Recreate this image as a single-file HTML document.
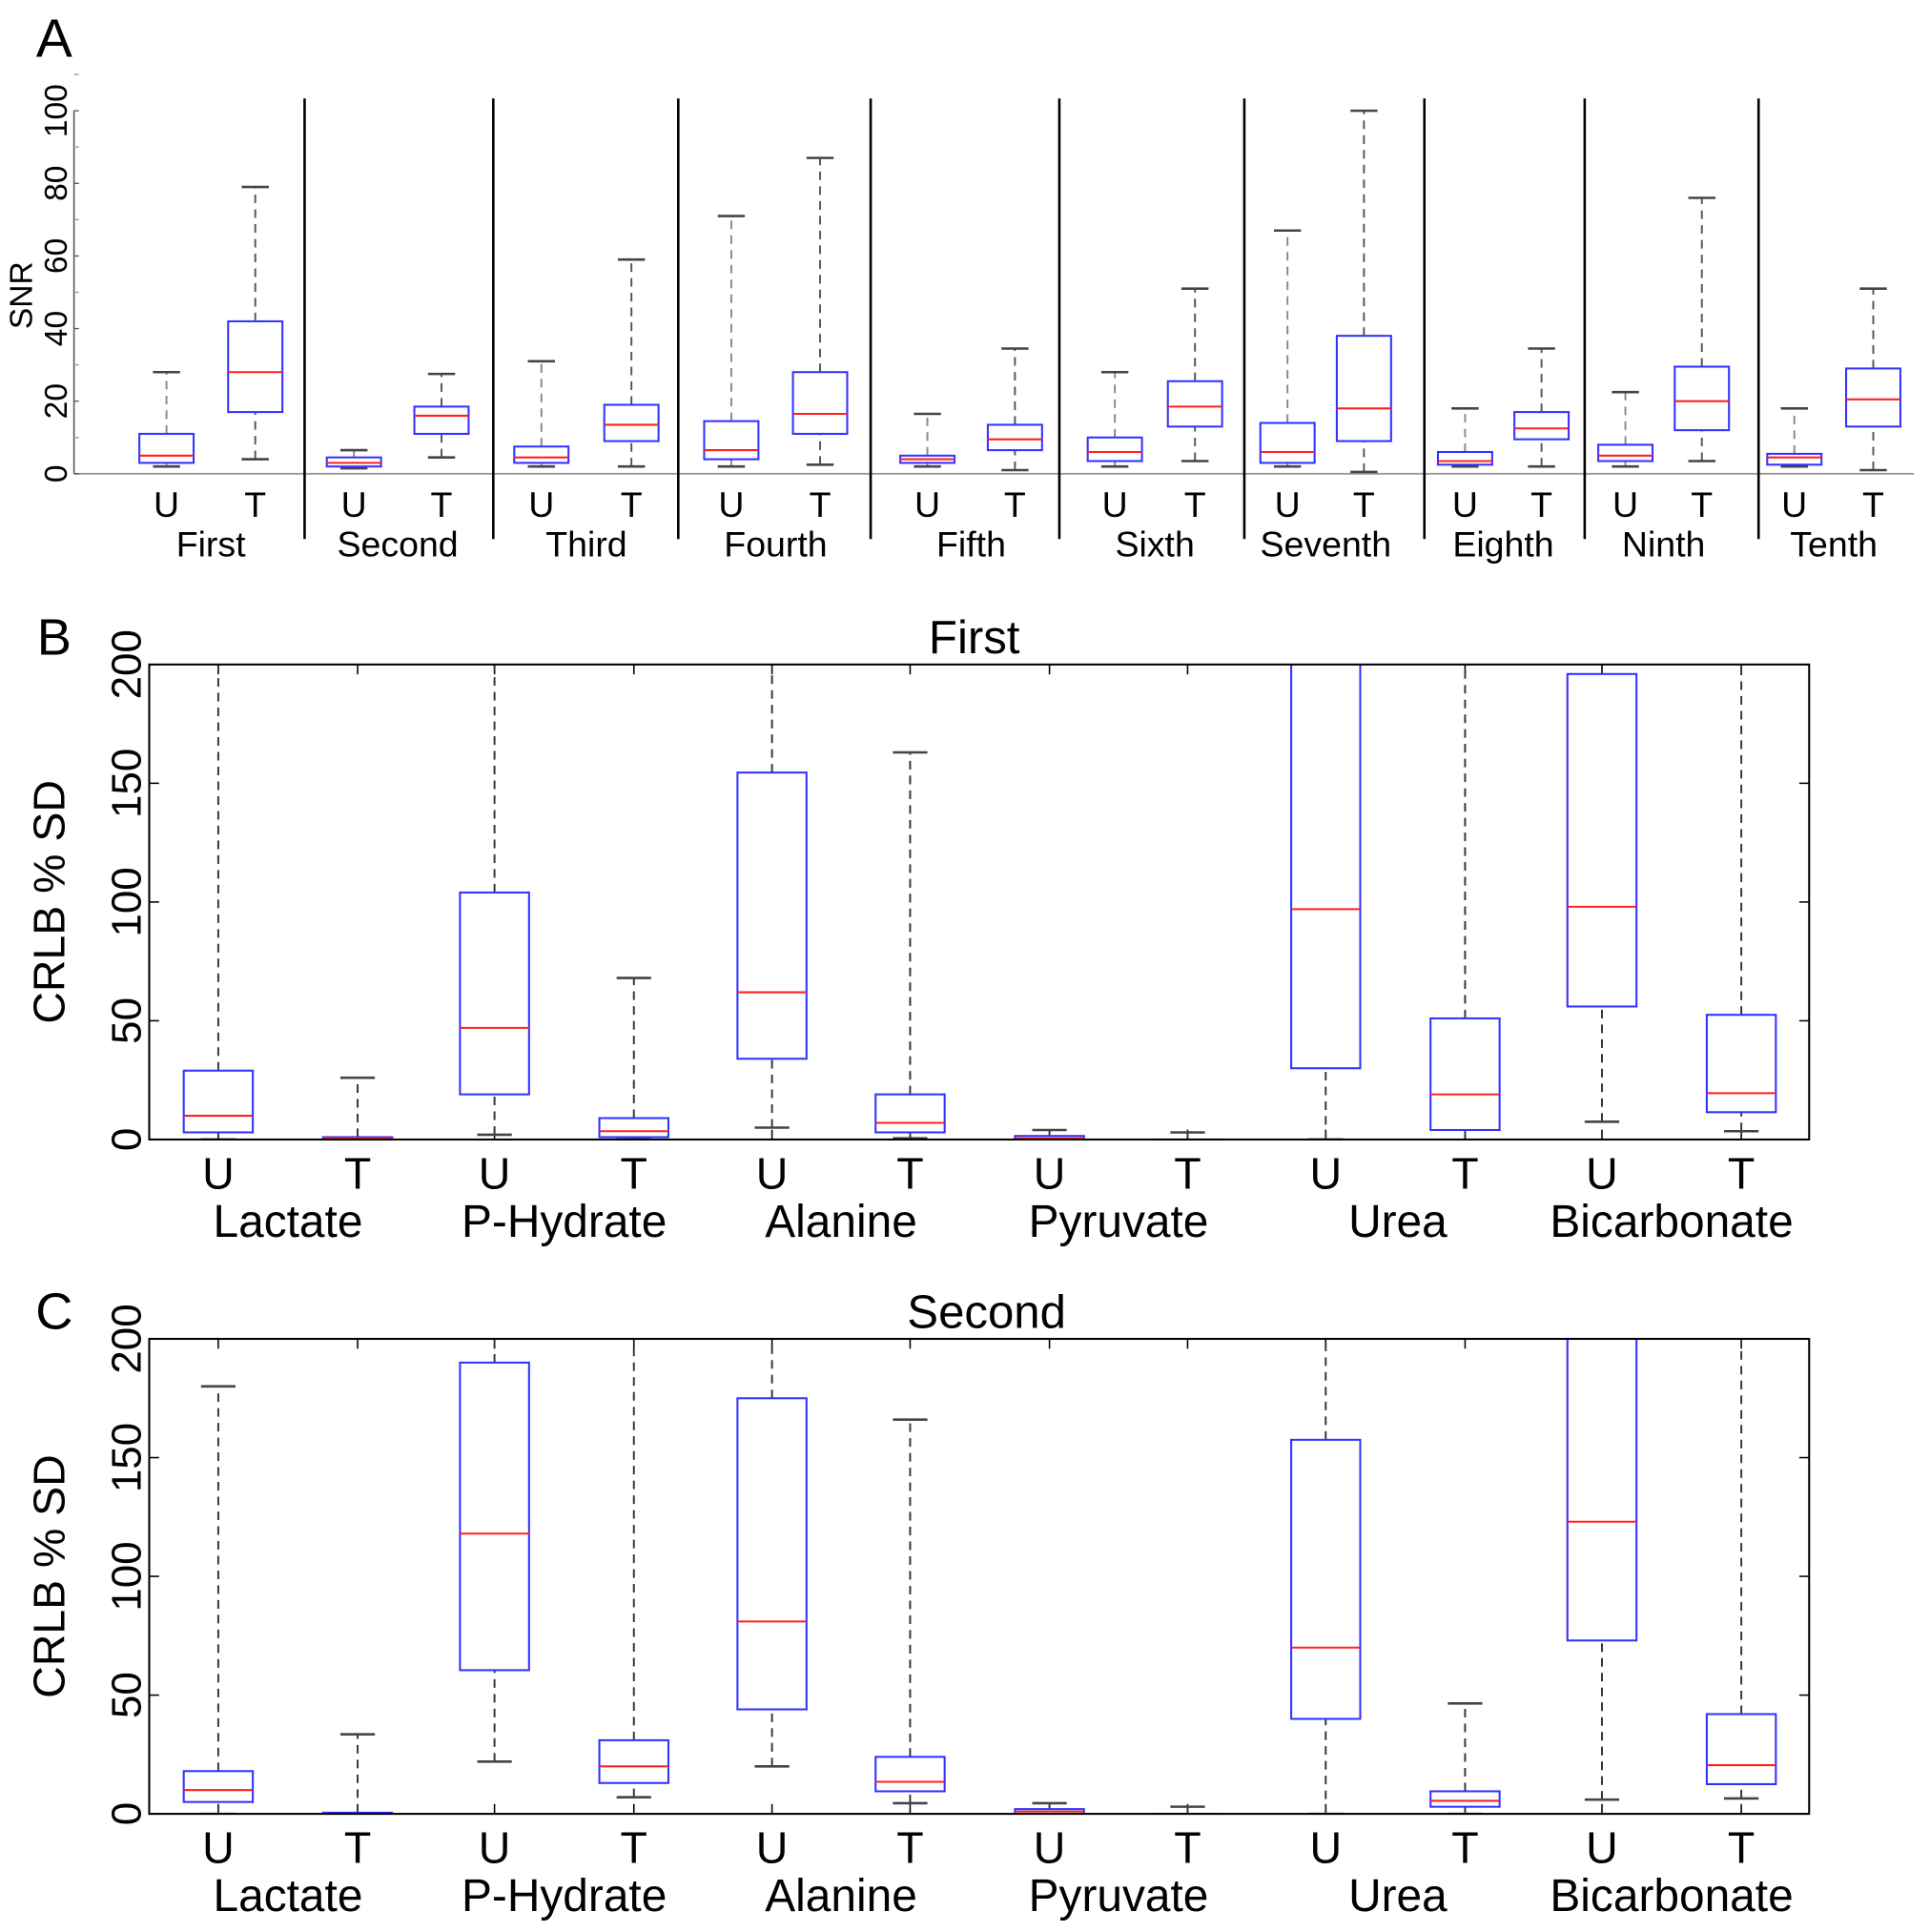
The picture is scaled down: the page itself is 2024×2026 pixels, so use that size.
<!DOCTYPE html>
<html><head><meta charset="utf-8"><style>
html,body{margin:0;padding:0;background:#fff;}
svg{display:block;}
text{font-family:"Liberation Sans",sans-serif;fill:#000;}
</style></head><body>
<svg id="fig" xmlns="http://www.w3.org/2000/svg" width="2024" height="2026" viewBox="0 0 1565 1570" preserveAspectRatio="none"></svg>
<script>
// Panel A data: [whiskerLow, q1, median, q3, whiskerHigh]
const aGroups = ["First","Second","Third","Fourth","Fifth","Sixth","Seventh","Eighth","Ninth","Tenth"];
const aU = [[2,3,5,11,28],[1.5,2,3,4.5,6.5],[2,3,4.5,7.5,31],[2,4,6.5,14.5,71],[2,3,4,5,16.5],[2,3.5,6,10,28],[2,3,6,14,67],[2,2.5,3.5,6,18],[2,3.5,5,8,22.5],[2,2.5,4.5,5.5,18]];
const aT = [[4,17,28,42,79],[4.5,11,16,18.5,27.5],[2,9,13.5,19,59],[2.5,11,16.5,28,87],[1,6.5,9.5,13.5,34.5],[3.5,13,18.5,25.5,51],[0.5,9,18,38,100],[2,9.5,12.5,17,34.5],[3.5,12,20,29.5,76],[1,13,20.5,29,51]];
const aTicks = [0,20,40,60,80,100];
// Panel B/C
const metabolites = ["Lactate","P-Hydrate","Alanine","Pyruvate","Urea","Bicarbonate"];
const bU = [[0,3,10,29,250],[2,19,47,104,250],[5,34,62,154.5,250],[0,0,0.5,1.5,4],[0,30,97,250,250],[7.5,56,98,196,250]];
const bT = [[0,0,0.5,1,26],[0,1,3.5,9,68],[0.5,3,7,19,163],[-0.5,-0.5,-0.5,0,3],[-0.5,4,19,51,250],[3.5,11.5,19.5,52.5,250]];
const cU = [[0,5,10,18,180],[22,60.5,118,190,250],[20,44,81,175,250],[0,0,1,2,4.5],[0,40,70,157.5,250],[6,73,123,250,250]];
const cT = [[0,0,0,0.5,33.5],[7,13,20,31,250],[4.5,9.5,13.5,24,166],[-0.5,-0.5,-0.5,0,3],[0,3,5.5,9.5,46.5],[6.5,12.5,20.5,42,250]];
const crlbTicks = [0,50,100,150,200];

const NS="http://www.w3.org/2000/svg";
const svg=document.getElementById('fig');
function mk(tag,attrs,parent){const e=document.createElementNS(NS,tag);for(const k in attrs)e.setAttribute(k,attrs[k]);(parent||svg).appendChild(e);return e;}
function txt(s,x,y,size,parent,extra){const t=mk('text',Object.assign({x:x,y:y,'font-size':size,'text-anchor':'middle'},extra||{}),parent);t.textContent=s;return t;}

function drawBox(g,cx,hw,v,yf,wcol,clipId){
  const bx=mk('g',{'clip-path':clipId?`url(#${clipId})`:''},g);
  
  
  mk('line',{x1:cx,x2:cx,y1:yf(v[0]),y2:yf(v[1]),stroke:wcol,'stroke-width':1.5,'stroke-dasharray':'7,5'},bx);
  mk('line',{x1:cx,x2:cx,y1:yf(v[3]),y2:yf(v[4]),stroke:wcol,'stroke-width':1.5,'stroke-dasharray':'7,5'},bx);
  mk('line',{x1:cx-hw*0.5,x2:cx+hw*0.5,y1:yf(v[0]),y2:yf(v[0]),stroke:'#444','stroke-width':2},bx);
  mk('line',{x1:cx-hw*0.5,x2:cx+hw*0.5,y1:yf(v[4]),y2:yf(v[4]),stroke:'#444','stroke-width':2},bx);
  mk('rect',{x:cx-hw,y:yf(v[3]),width:2*hw,height:Math.max(1,yf(v[1])-yf(v[3])),fill:'#fff',stroke:'#3333ff','stroke-width':1.6},bx);
  mk('line',{x1:cx-hw,x2:cx+hw,y1:yf(v[2]),y2:yf(v[2]),stroke:'#ff2020','stroke-width':1.6},bx);
}

// ---------- Panel A ----------
(function(){
  const g=mk('g',{});
  
  
  const y0=385,k=2.95; const yf=v=>y0-v*k;
  const uX=[135,287,439,593,752,904,1044,1188,1318,1455];
  const tX=[207,358,512,665,823,969,1106,1250,1380,1519];
  const seps=[247,400,550,706,859,1009,1155,1285,1426];
  txt('A',44,46,44,g,{});
  mk('line',{x1:60,x2:60,y1:yf(100),y2:y0,stroke:'#555','stroke-width':1.2},g);
  mk('line',{x1:60,x2:1552,y1:y0,y2:y0,stroke:'#999','stroke-width':1.5},g);
  aTicks.forEach(t=>{
    mk('line',{x1:60,x2:64,y1:yf(t),y2:yf(t),stroke:'#555'},g);
    mk('line',{x1:60,x2:64,y1:yf(t+10),y2:yf(t+10),stroke:'#999'},g);
    const l=txt(String(t),0,0,26,g,{transform:`translate(54,${yf(t)}) rotate(-90)`});
    
  });
  const yl=txt('SNR',0,0,26,g,{transform:'translate(26,240) rotate(-90)'});
  
  seps.forEach(x=>mk('line',{x1:x,x2:x,y1:80,y2:438,stroke:'#000','stroke-width':2},g));
  aGroups.forEach((name,i)=>{
    drawBox(g,uX[i],22,aU[i],yf,'#888');
    drawBox(g,tX[i],22,aT[i],yf,'#555');
    txt('U',uX[i],420,29,g);
    txt('T',tX[i],420,29,g);
    const gl=txt(name,(uX[i]+tX[i])/2,452,29,g);
    
  });
})();

// ---------- Panels B & C ----------
function crlbPanel(label,title,top,U,T,clipId,nm){
  const g=mk('g',{});
  
  
  const L=121,R=1467,bot=top+386; const k=386/200; const yf=v=>bot-v*k;
  const defs=mk('defs',{},g); const cp=mk('clipPath',{id:clipId},defs);
  mk('rect',{x:L,y:top,width:R-L,height:bot-top},cp);
  txt(label,44,top-8,42,g);
  const tt=txt(title,title==='First'?790:800,top-9,38,g);
  
  const cx=[177,290,401,514,626,738,851,963,1075,1188,1299,1412];
  crlbTicks.forEach(t=>{
    mk('line',{x1:L,x2:L+8,y1:yf(t),y2:yf(t),stroke:'#000','stroke-width':1.2},g);
    mk('line',{x1:R-8,x2:R,y1:yf(t),y2:yf(t),stroke:'#000','stroke-width':1.2},g);
    const l=txt(String(t),0,0,34,g,{transform:`translate(114,${yf(t)}) rotate(-90)`});
    
  });
  cx.forEach(x=>{
    mk('line',{x1:x,x2:x,y1:top,y2:top+8,stroke:'#000','stroke-width':1.2},g);
    mk('line',{x1:x,x2:x,y1:bot-8,y2:bot,stroke:'#000','stroke-width':1.2},g);
  });
  const yl=txt('CRLB % SD',0,0,36,g,{transform:`translate(52,${(top+bot)/2}) rotate(-90)`});
  
  metabolites.forEach((m,i)=>{
    drawBox(g,cx[2*i],28,U[i],yf,'#333',clipId);
    drawBox(g,cx[2*i+1],28,T[i],yf,'#333',clipId);
    txt('U',cx[2*i],bot+40,36,g);
    txt('T',cx[2*i+1],bot+40,36,g);
    const ml=txt(m,(cx[2*i]+cx[2*i+1])/2+ (i==4?2:0),bot+79,37,g);
    
  });
  mk('rect',{x:L,y:top,width:R-L,height:bot-top,fill:'none',stroke:'#000','stroke-width':1.6},g);
}
crlbPanel('B','First',540,bU,bT,'clipB','panel-b-crlb-first');
crlbPanel('C','Second',1088,cU,cT,'clipC','panel-c-crlb-second');
</script>
</body></html>
